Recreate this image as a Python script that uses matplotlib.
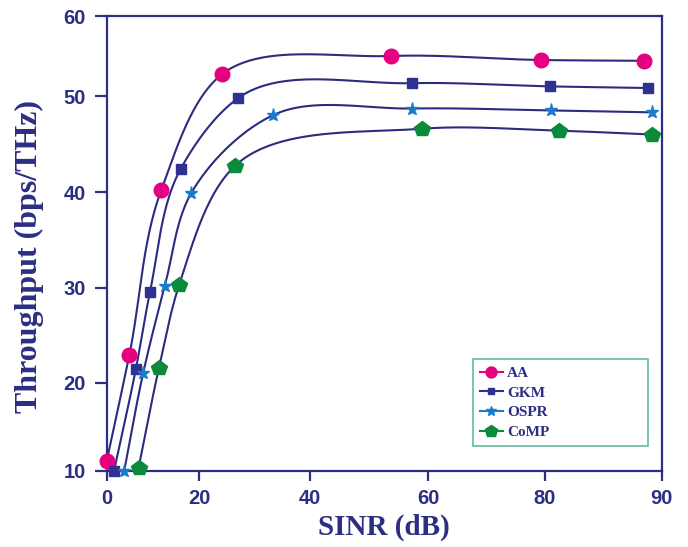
import numpy as np
import matplotlib
matplotlib.use("Agg")
import matplotlib.pyplot as plt
from matplotlib.lines import Line2D

# ---------------- data ----------------
aa_x = [0.0, 4.9, 11.8, 24.1, 53.7, 79.4, 88.5]
aa_y = [11.1, 22.9, 40.2, 52.7, 55.0, 54.5, 54.4]

gkm_x = [1.6, 6.3, 9.4, 16.0, 27.1, 57.3, 80.4, 88.8]
gkm_y = [10.0, 21.4, 29.6, 42.4, 49.8, 51.6, 51.2, 51.0]

ospr_x = [3.8, 7.9, 12.6, 18.3, 33.3, 57.3, 80.5, 89.2]
ospr_y = [10.0, 21.0, 30.2, 39.9, 48.0, 48.7, 48.5, 48.3]

comp_x = [6.9, 11.3, 15.7, 26.4, 58.9, 81.2, 89.2]
comp_y = [10.3, 21.5, 30.3, 42.7, 46.6, 46.4, 46.0]

series_names = ["AA", "GKM", "OSPR", "CoMP"]
x_ticks = [0, 20, 40, 60, 80, 90]
y_ticks = [10, 20, 30, 40, 50, 60]

# ---------------- axis scale (uneven tick spacing of the original) ----------------
x_anchor_pos = [0.0, 92.3, 203.3, 321.6, 438.3, 555.0]
y_anchor_pos = [0.0, 88.0, 183.0, 278.4, 374.7, 454.7]


def make_pw(vals, pos):
    vals = np.asarray(vals, float)
    pos = np.asarray(pos, float)
    s0 = (pos[1] - pos[0]) / (vals[1] - vals[0])
    s1 = (pos[-1] - pos[-2]) / (vals[-1] - vals[-2])
    V = np.concatenate([[vals[0] - 1e4], vals, [vals[-1] + 1e4]])
    P = np.concatenate([[pos[0] - 1e4 * s0], pos, [pos[-1] + 1e4 * s1]])

    def fwd(v):
        return np.interp(np.asarray(v, float), V, P)

    def inv(p):
        return np.interp(np.asarray(p, float), P, V)
    return fwd, inv


fx, ix = make_pw(x_ticks, x_anchor_pos)
fy, iy = make_pw(y_ticks, y_anchor_pos)


def smooth(xs, ys, n=50, alpha=1.0):
    """Catmull-Rom curve drawn through the read points (screen-like space)."""
    P = np.column_stack([fx(xs), fy(ys)])
    P = np.vstack([2 * P[0] - P[1], P, 2 * P[-1] - P[-2]])
    out = []
    for i in range(1, len(P) - 2):
        p0, p1, p2, p3 = P[i - 1], P[i], P[i + 1], P[i + 2]
        t0 = 0.0
        t1 = t0 + max(np.linalg.norm(p1 - p0), 1e-9) ** alpha
        t2 = t1 + max(np.linalg.norm(p2 - p1), 1e-9) ** alpha
        t3 = t2 + max(np.linalg.norm(p3 - p2), 1e-9) ** alpha
        t = np.linspace(t1, t2, n)[:, None]
        a1 = (t1 - t) / (t1 - t0) * p0 + (t - t0) / (t1 - t0) * p1
        a2 = (t2 - t) / (t2 - t1) * p1 + (t - t1) / (t2 - t1) * p2
        a3 = (t3 - t) / (t3 - t2) * p2 + (t - t2) / (t3 - t2) * p3
        b1 = (t2 - t) / (t2 - t0) * a1 + (t - t0) / (t2 - t0) * a2
        b2 = (t3 - t) / (t3 - t1) * a2 + (t - t1) / (t3 - t1) * a3
        c = (t2 - t) / (t2 - t1) * b1 + (t - t1) / (t2 - t1) * b2
        out.append(c if i == 1 else c[1:])
    C = np.vstack(out)
    return ix(C[:, 0]), iy(C[:, 1])


# ---------------- styling ----------------
NAVY = "#2C2E83"
LINE = "#2B2C80"
colors = ["#E4007F", "#2E3192", "#1C7ACB", "#0A8A3A"]
markers = ["o", "s", "*", "p"]
msizes = [10.5, 6.5, 9.5, 11.5]

fig = plt.figure(figsize=(6.88, 5.47), dpi=100)
fig.patch.set_facecolor("white")
ax = fig.add_axes([106.7 / 688, 1 - 470.7 / 547, 555 / 688, 454.7 / 547])
ax.set_xscale("function", functions=(fx, ix))
ax.set_yscale("function", functions=(fy, iy))
ax.set_xlim(0, 90)
ax.set_ylim(10, 60)

data = [(aa_x, aa_y), (gkm_x, gkm_y), (ospr_x, ospr_y), (comp_x, comp_y)]
for (xs, ys), c, m, ms in zip(data, colors, markers, msizes):
    sx, sy = smooth(xs, ys)
    ax.plot(sx, sy, color=LINE, lw=1.5, zorder=2, clip_on=False)
    ax.plot(xs, ys, ls="none", marker=m, ms=ms, color=c, mec=c, zorder=3,
            clip_on=False)

ax.set_xticks(x_ticks)
ax.set_yticks(y_ticks)
ax.set_xticklabels([str(t) for t in x_ticks])
ax.set_yticklabels([str(t) for t in y_ticks])
ax.xaxis.set_minor_locator(matplotlib.ticker.NullLocator())
ax.yaxis.set_minor_locator(matplotlib.ticker.NullLocator())

for sp in ax.spines.values():
    sp.set_color(NAVY)
    sp.set_linewidth(1.6)

ax.tick_params(axis="x", direction="out", length=7.5, width=1.6, color=NAVY,
               pad=5.5, labelsize=14.5, labelcolor=NAVY)
ax.tick_params(axis="y", direction="out", length=8.5, width=1.6, color=NAVY,
               pad=6.5, labelsize=14.5, labelcolor=NAVY)
for lab in ax.get_xticklabels() + ax.get_yticklabels():
    lab.set_fontfamily("Liberation Sans")
    lab.set_fontweight("bold")

ax.set_xlabel("SINR (dB)", fontfamily="Liberation Serif", fontweight="bold",
              fontsize=21, color=NAVY, labelpad=4)
ax.set_ylabel("Throughput (bps/THz)", fontfamily="Liberation Serif",
              fontweight="bold", fontsize=23, color=NAVY)
ax.yaxis.set_label_coords(-0.113, 0.47)

handles = [Line2D([0], [0], color=c, lw=1.5, marker=m, ms=ms * 0.75,
                  mec=c, mfc=c) for c, m, ms in zip(colors, markers, msizes)]
leg = ax.legend(handles, series_names, loc="upper left",
                bbox_to_anchor=(0.6595, 0.0528, 0.3158, 0.1922),
                mode="expand", borderaxespad=0, fancybox=False,
                frameon=True, handlelength=1.5, handletextpad=0.3,
                labelspacing=0.4, borderpad=0.45,
                prop={"family": "Liberation Serif", "weight": "bold",
                      "size": 11})
leg.get_frame().set_edgecolor("#3DA98A")
leg.get_frame().set_linewidth(1.2)
for t in leg.get_texts():
    t.set_color(NAVY)

fig.savefig("out.png", dpi=100, facecolor="white")
